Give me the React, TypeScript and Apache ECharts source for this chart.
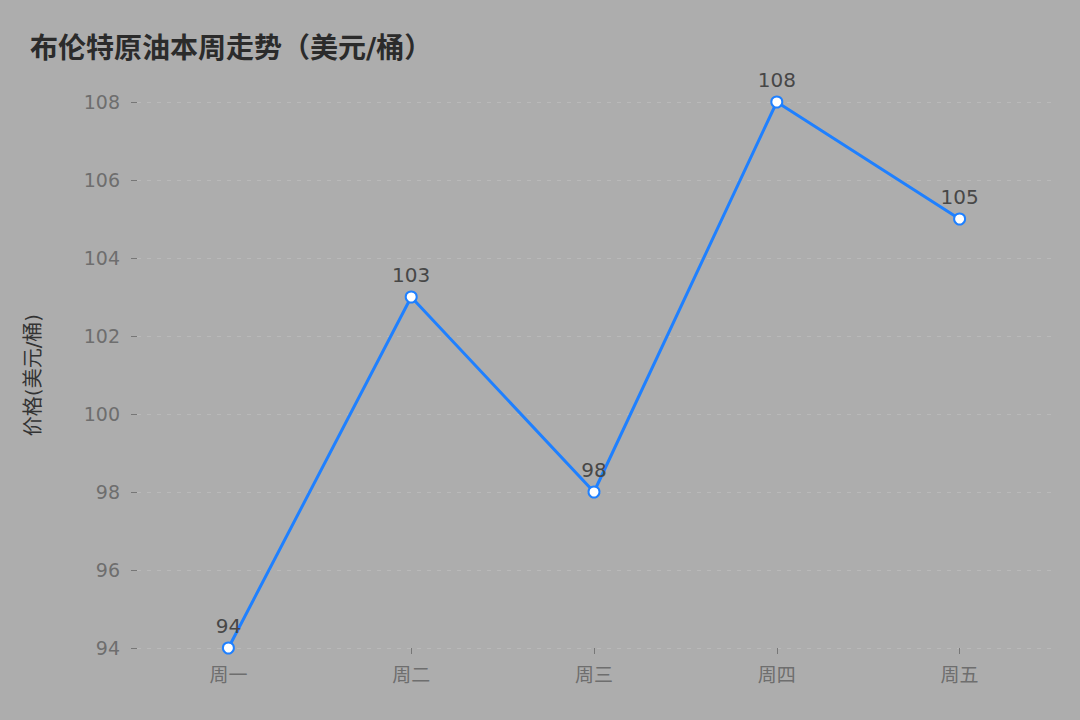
import React, { useEffect, useRef } from 'react';
import * as echarts from 'echarts';

const days = ['周一', '周二', '周三', '周四', '周五'];
const prices = [94, 103, 98, 108, 105];
const FONT = '"DejaVu Sans", "Noto Sans CJK SC", sans-serif';

const App: React.FC = () => {
  const ref = useRef<HTMLDivElement | null>(null);

  useEffect(() => {
    if (!ref.current) return;
    const chart = echarts.init(ref.current, undefined, { renderer: 'svg' });
    chart.setOption({
      animation: false,
      backgroundColor: '#adadad',
      textStyle: { fontFamily: FONT },
      title: {
        text: '布伦特原油本周走势（美元/桶）',
        left: 25, top: 29,
        textStyle: { fontSize: 28, fontWeight: 'bold', color: '#2b2b2b', fontFamily: FONT }
      },
      grid: { left: 137, right: 29, top: 102, bottom: 72 },
      xAxis: {
        type: 'category',
        data: days,
        boundaryGap: true,
        axisLine: { show: false },
        axisTick: { show: true, alignWithLabel: true, length: 6, lineStyle: { color: '#777' } },
        axisLabel: { color: '#6e6e6e', fontSize: 19, margin: 17, fontFamily: FONT }
      },
      yAxis: {
        type: 'value',
        min: 94, max: 108, interval: 2,
        name: '价格(美元/桶)',
        nameLocation: 'middle',
        nameGap: 94,
        nameTextStyle: { color: '#333', fontSize: 20, fontFamily: FONT },
        axisLine: { show: false },
        axisTick: { show: true, length: 6, lineStyle: { color: '#777' } },
        axisLabel: { color: '#6e6e6e', fontSize: 19, margin: 17, fontFamily: FONT },
        splitLine: { show: true, lineStyle: { color: '#b9b9b9', type: [4, 6], width: 1 } }
      },
      series: [{
        type: 'line',
        data: prices,
        symbol: 'circle',
        symbolSize: 11,
        itemStyle: { color: '#ffffff', borderColor: '#1f80ff', borderWidth: 2 },
        lineStyle: { color: '#1f80ff', width: 3 },
        label: { show: true, position: 'top', distance: 6, color: '#474747', fontSize: 20, fontFamily: FONT }
      }]
    });
    return () => chart.dispose();
  }, []);

  return <div ref={ref} style={{ position: 'absolute', left: 0, top: 0, width: 1080, height: 720 }} />;
};

export default App;
